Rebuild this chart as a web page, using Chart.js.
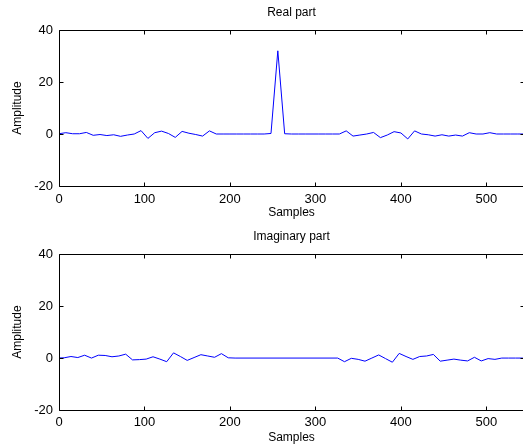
<!DOCTYPE html>
<html>
<head>
<meta charset="utf-8">
<script src="https://cdn.jsdelivr.net/npm/chart.js@4/dist/chart.umd.min.js"></script>
<style>
html, body { margin:0; padding:0; background:#fff; overflow:hidden; width:523px; height:446px; }
canvas { position:absolute; left:0; }
#c1 { top:0; }
#c2 { top:223px; }
</style>
</head>
<body>
<canvas id="c1" width="525" height="223"></canvas>
<canvas id="c2" width="525" height="223"></canvas>
<script>
// ---- data ----
const realSamples = [
  0, 8, 16, 24, 32, 40, 48, 56, 64, 72, 80, 88,
  96, 104, 112, 120, 128, 136, 144, 152, 160, 168, 176, 184,
  192, 200, 208, 216, 224, 232, 240, 248, 256, 264, 272, 280,
  288, 296, 304, 312, 320, 328, 336, 344, 352, 360, 368, 376,
  384, 392, 400, 408, 416, 424, 432, 440, 448, 456, 464, 472,
  480, 488, 496, 504, 512, 520, 528, 536, 544
];
const realPart = [
  0.1, 0.5, 0.1, 0.1, 0.6, -0.5, -0.2, -0.6, -0.3, -0.9, -0.4, 0,
  1.3, -1.7, 0.5, 1.1, 0.2, -1.3, 1.0, 0.3, -0.2, -0.8, 1.2, 0,
  0, 0, 0, 0, 0, 0, 0, 0.2, 32, 0.1, 0, 0,
  0, 0, 0, 0, 0, 0, 1.2, -0.8, -0.4, 0, 0.6, -1.4,
  -0.4, 0.9, 0.4, -1.9, 1.2, 0, -0.3, -0.8, -0.3, -0.8, -0.4, -0.8,
  0.5, 0, 0, 0.5, 0, 0, 0, 0, 0
];
const imagSamples = [
  -2, 6, 14, 22, 30, 38, 46, 54, 62, 70, 78, 86,
  94, 102, 110, 118, 126, 134, 142, 150, 158, 166, 174, 182,
  190, 198, 206, 326, 334, 342, 350, 358, 366, 374, 382, 390,
  398, 406, 414, 422, 430, 438, 446, 454, 462, 470, 478, 486,
  494, 502, 510, 518, 526, 534, 542, 550
];
const imagPart = [
  0, 0.1, 0.6, 0.2, 1.1, 0, 1.1, 1.0, 0.5, 0.8, 1.5, -0.7,
  -0.6, -0.4, 0.5, -0.4, -1.4, 2.0, 0.6, -0.9, 0.2, 1.3, 0.8, 0.3,
  1.7, 0.1, 0, 0, -1.4, -0.1, -0.5, -1.2, 0.0, 1.2, -0.2, -1.6,
  1.8, 0.6, -0.5, 0.6, 0.8, 1.4, -1.2, -0.8, -0.4, -0.8, -1.1, 0.3,
  -1.1, -0.2, -0.5, 0, 0, 0, 0, 0
];
const xTicks = [0, 100, 200, 300, 400, 500];
const yTicks = [-20, 0, 20, 40];
const xRange = [0, 544];
const yRange = [-20, 40];
// ---------------------------------------

const FAMILY = "'Liberation Sans', Arial, Helvetica, sans-serif";
const FONT = { family: FAMILY, size: 12, weight: 'normal' };
const TICKFONT = { family: FAMILY, size: 13, weight: 'normal' };

const boxTicks = {
  id: 'boxTicks',
  afterDraw(chart) {
    const { ctx, chartArea: a, scales: { x, y } } = chart;
    const L = Math.round(a.left) + 0.5, R = Math.round(a.right) + 0.5;
    const T = Math.round(a.top) + 0.5, B = Math.round(a.bottom) + 0.5;
    const len = 4;
    ctx.save();
    ctx.strokeStyle = '#000';
    ctx.lineWidth = 1;
    ctx.beginPath();
    ctx.rect(L, T, R - L, B - T);
    x.ticks.forEach(t => {
      const p = Math.round(x.getPixelForValue(t.value)) + 0.5;
      ctx.moveTo(p, B); ctx.lineTo(p, B - len);
      ctx.moveTo(p, T); ctx.lineTo(p, T + len);
    });
    y.ticks.forEach(t => {
      const p = Math.round(y.getPixelForValue(t.value)) + 0.5;
      ctx.moveTo(L, p); ctx.lineTo(L + len, p);
      ctx.moveTo(R, p); ctx.lineTo(R - len, p);
    });
    ctx.stroke();
    ctx.restore();
  }
};

function makeChart(id, xs, ys, titleText, cfg) {
  return new Chart(document.getElementById(id), {
    type: 'line',
    data: {
      datasets: [{
        data: xs.map((v, i) => ({ x: v, y: ys[i] })),
        borderColor: '#0000ff',
        borderWidth: 1,
        pointRadius: 0,
        tension: 0,
        fill: false
      }]
    },
    options: {
      responsive: false,
      animation: false,
      events: [],
      layout: { padding: { left: 0, top: 0, right: 1, bottom: 0 } },
      plugins: {
        legend: { display: false },
        tooltip: { enabled: false },
        title: {
          display: true, text: titleText, color: '#000', font: FONT, fullSize: false,
          padding: { top: cfg.titleTop, bottom: cfg.titleBottom }
        }
      },
      scales: {
        x: {
          type: 'linear', min: xRange[0], max: xRange[1],
          afterBuildTicks: s => { s.ticks = xTicks.map(v => ({ value: v })); },
          ticks: { color: '#000', font: TICKFONT, padding: cfg.xTickPad, maxRotation: 0, autoSkip: false, includeBounds: false },
          grid: { display: false, drawTicks: false },
          border: { display: false },
          title: { display: true, text: 'Samples', color: '#000', font: FONT, padding: { top: 0, bottom: cfg.xTitleBottom } },
          afterFit: s => { s.height = cfg.xHeight; }
        },
        y: {
          type: 'linear', min: yRange[0], max: yRange[1],
          afterBuildTicks: s => { s.ticks = yTicks.map(v => ({ value: v })); },
          ticks: { color: '#000', font: TICKFONT, padding: 6, includeBounds: false },
          grid: { display: false, drawTicks: false },
          border: { display: false },
          title: { display: true, text: 'Amplitude', color: '#000', font: FONT, padding: { top: 10, bottom: 0 } },
          afterFit: s => { s.width = 59; }
        }
      }
    },
    plugins: [boxTicks]
  });
}

makeChart('c1', realSamples, realPart, 'Real part',
  { titleTop: 5, titleBottom: 10.6, xTickPad: 6, xTitleBottom: 3, xHeight: 37 });
makeChart('c2', imagSamples, imagPart, 'Imaginary part',
  { titleTop: 6.8, titleBottom: 10, xTickPad: 5, xTitleBottom: 1, xHeight: 36 });
</script>
</body>
</html>
